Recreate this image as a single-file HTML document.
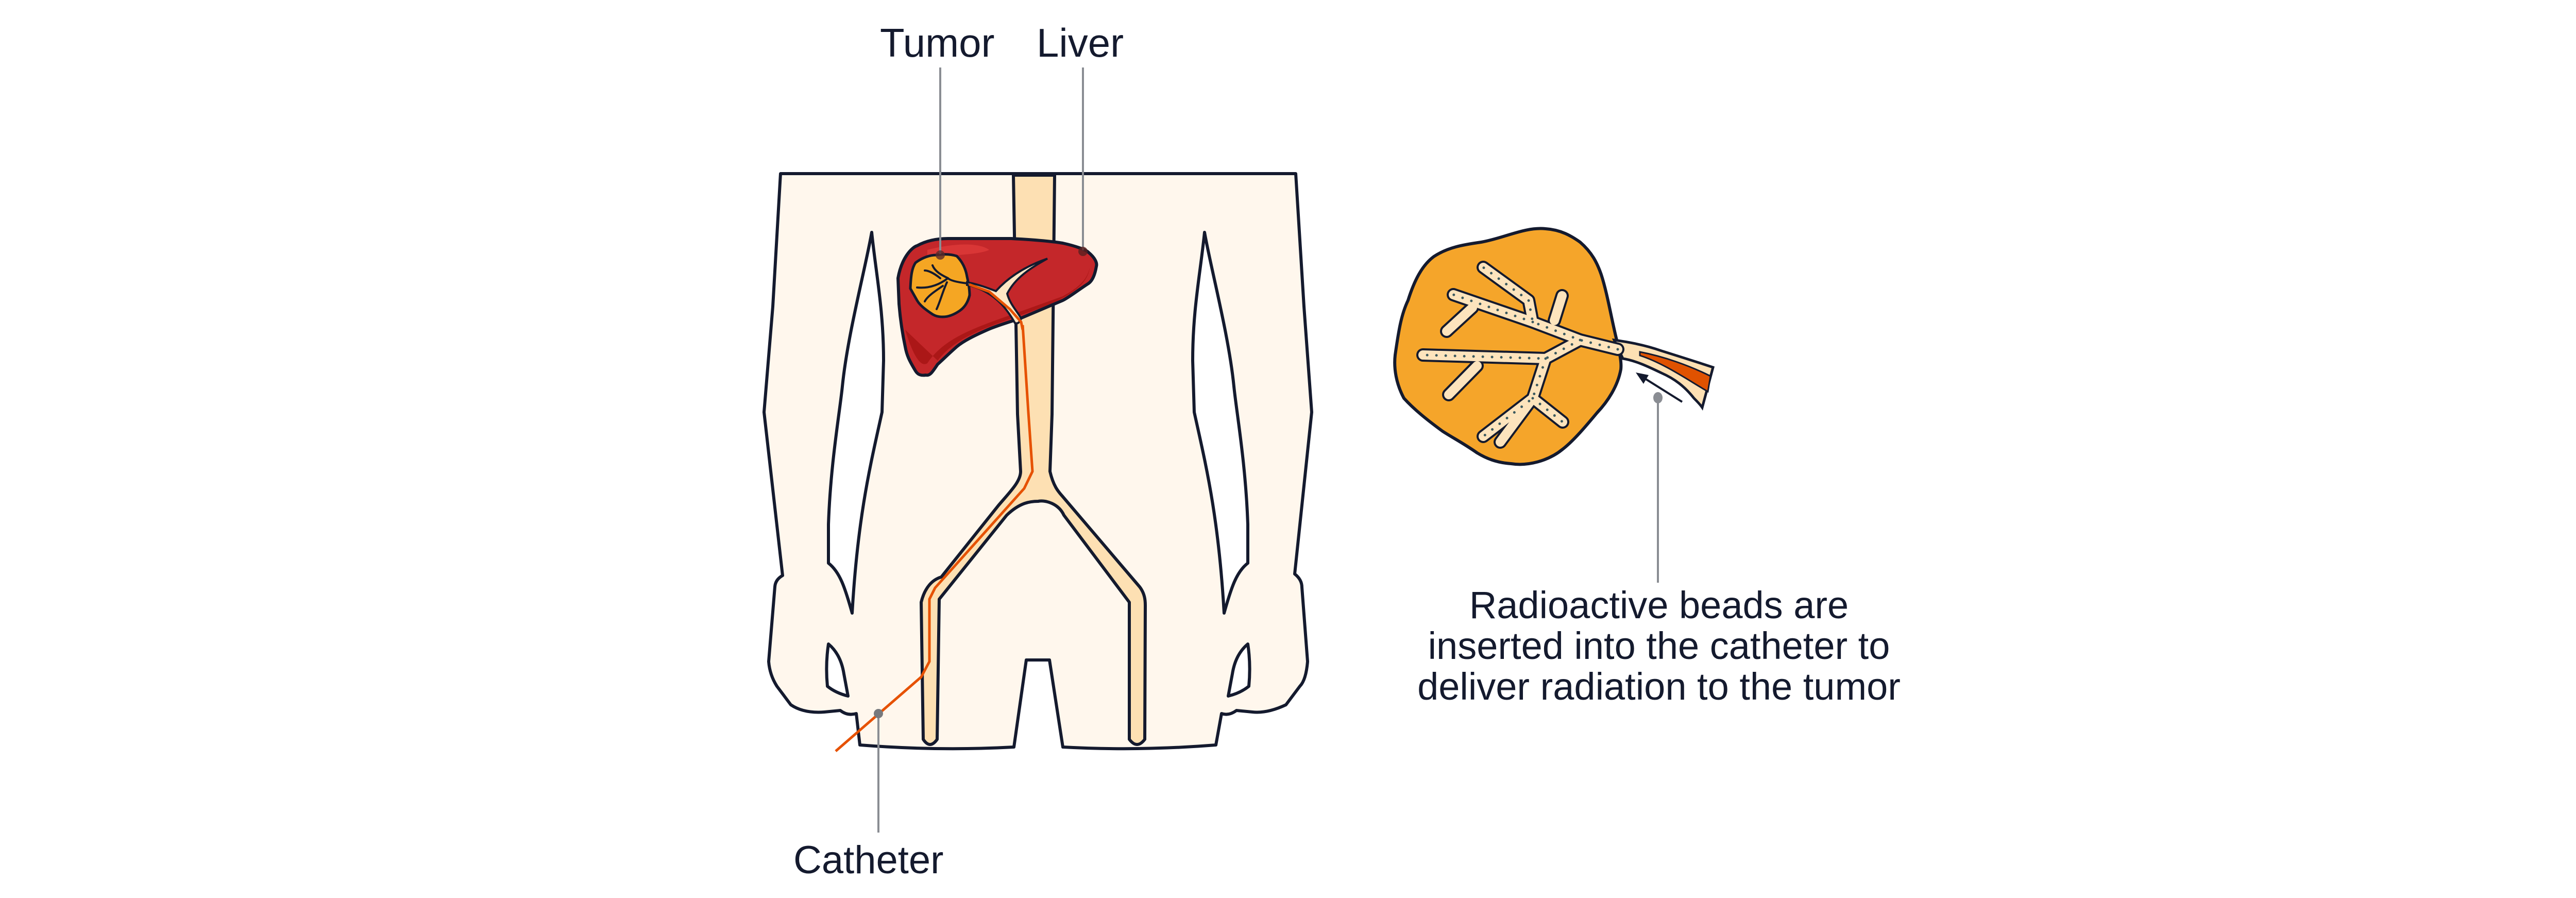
<!DOCTYPE html>
<html><head><meta charset="utf-8"><style>
html,body{margin:0;padding:0;background:#fff;width:5254px;height:1743px;overflow:hidden;}
svg{display:block}
text{font-family:"Liberation Sans",sans-serif;fill:#141a2e;}
</style></head><body>
<svg width="5254" height="1743" viewBox="0 0 5254 1743" xmlns="http://www.w3.org/2000/svg">
<rect width="5254" height="1743" fill="#fff"/>
<path d="M1515,337 L2515,337 L2531,595 L2546,800 L2513,1114 Q2527,1125 2527,1140 L2538,1284 Q2535,1320 2523,1332 L2496,1368 Q2460,1385 2431,1382 L2400,1379 Q2385,1390 2371,1385 L2360,1446 Q2210,1458 2063,1450 L2037,1281 L1992,1281 L1968,1450 Q1820,1458 1669,1446 L1662,1385 Q1645,1390 1631,1379 L1600,1382 Q1560,1385 1535,1368 L1508,1332 Q1494,1310 1492,1284 L1504,1139 Q1505,1125 1519,1117 L1483,800 L1500,595 Z" fill="#fff7ed" stroke="#141a2e" stroke-width="6" stroke-linejoin="round"/>
<g fill="#fff" stroke="#141a2e" stroke-width="6" stroke-linejoin="round">
<path d="M1692,451 C1700,530 1715,600 1715,700 L1712,800 C1690,900 1665,1000 1654,1190 C1640,1140 1630,1110 1608,1093 L1608,1018 C1612,900 1630,800 1635,750 C1645,650 1680,520 1692,451 Z"/>
<path d="M1608,1250 Q1632,1270 1638,1308 L1646,1351 Q1622,1345 1606,1332 Q1602,1290 1608,1250 Z"/>
</g>
<g transform="translate(4030,0) scale(-1,1)" fill="#fff" stroke="#141a2e" stroke-width="6" stroke-linejoin="round">
<path d="M1692,451 C1700,530 1715,600 1715,700 L1712,800 C1690,900 1665,1000 1654,1190 C1640,1140 1630,1110 1608,1093 L1608,1018 C1612,900 1630,800 1635,750 C1645,650 1680,520 1692,451 Z"/>
<path d="M1608,1250 Q1632,1270 1638,1308 L1646,1351 Q1622,1345 1606,1332 Q1602,1290 1608,1250 Z"/>
</g>
<path d="M1967,340 L2047,340 L2042,804 L2038,915 C2045,945 2055,955 2062,963 L2212,1139 C2222,1152 2223,1165 2223,1175 L2222,1435 Q2207,1455 2192,1435 L2192,1169 L2065,1000 C2055,978 2030,970 2015,973 C2000,973 1980,975 1954,1000 L1823,1163 L1819,1435 Q1805,1455 1792,1435 L1788,1169 C1795,1140 1810,1125 1827,1120 L1938,981 C1960,955 1981,935 1981,915 L1975,804 Z" fill="#fde0b3" stroke="#141a2e" stroke-width="6" stroke-linejoin="round"/>
<polyline points="1622,1458 1788,1314 1804,1284 1804,1163 1815,1141 1988,948 2004,915 1996,800 1985,631" fill="none" stroke="#e65100" stroke-width="5"/>
<path d="M1743,540 C1750,500 1770,480 1780,477 C1800,466 1820,463 1840,463 L1963,463 C2000,465 2040,468 2063,472 C2090,478 2108,485 2113,490 C2125,500 2130,510 2128,517 C2125,535 2120,545 2113,550 C2090,565 2075,577 2063,583 L1983,617 C1960,625 1935,632 1917,640 C1890,652 1870,662 1857,673 C1840,688 1828,700 1820,707 C1810,722 1805,730 1797,728 C1785,730 1780,725 1777,720 C1765,700 1760,690 1757,673 C1750,640 1747,615 1745,590 Z" fill="#c4272a" stroke="#141a2e" stroke-width="6"/>
<path d="M1757,640 C1775,700 1790,712 1800,705 C1830,660 1880,640 1960,612 L2063,575 C2090,560 2110,545 2115,520 C2110,560 2060,585 1980,612 C1900,640 1850,660 1820,700" fill="#ab1717"/>
<path d="M1800,485 C1850,472 1900,470 1920,485 C1900,495 1840,495 1800,500 Z" fill="#d93636"/>
<path d="M1767,560 C1768,535 1770,520 1777,510 C1790,500 1805,495 1817,495 C1830,493 1845,493 1857,497 C1870,510 1875,525 1877,537 C1880,550 1882,562 1882,573 C1878,590 1870,598 1863,603 C1850,612 1840,615 1830,615 C1820,615 1815,613 1810,610 C1795,600 1785,592 1780,583 Z" fill="#f5a623" stroke="#141a2e" stroke-width="5"/>
<g stroke="#141a2e" stroke-width="4" fill="none" stroke-linecap="round">
<path d="M1877,550 C1860,548 1845,545 1840,540 C1830,535 1815,528 1810,515"/>
<path d="M1840,540 C1820,555 1800,560 1780,558"/>
<path d="M1838,548 C1830,565 1825,585 1818,600"/>
<path d="M1825,540 C1810,528 1800,525 1795,525"/>
<path d="M1830,555 C1815,565 1800,575 1795,585"/>
</g>
<path d="M1877,548 C1900,552 1920,560 1933,565 C1960,535 1995,515 2033,502 C2000,520 1970,540 1955,570 C1960,590 1975,605 1982,618 Q1978,630 1970,627 C1955,600 1935,575 1900,560 C1890,556 1880,553 1877,553 Z" fill="#fde7c5" stroke="#141a2e" stroke-width="4"/>
<polyline points="1881,552 1920,566 1960,600 1982,625 1985,640" fill="none" stroke="#e65100" stroke-width="5"/>
<g stroke="#8a8d93" stroke-width="4">
<line x1="1825" y1="131" x2="1825" y2="493"/>
<line x1="2102" y1="131" x2="2102" y2="486"/>
<line x1="1705" y1="1385" x2="1705" y2="1616"/>
<line x1="3218" y1="775" x2="3218" y2="1131"/>
</g>
<circle cx="1825" cy="495" r="9" fill="#5a2a2a" opacity="0.8"/>
<circle cx="2102" cy="488" r="9" fill="#5a2020" opacity="0.8"/>
<circle cx="1705" cy="1385" r="9" fill="#77797d"/>
<ellipse cx="3218" cy="772" rx="9" ry="11" fill="#8a8d93"/>
<path d="M2708,689 C2715,640 2720,610 2733,583 C2745,545 2760,515 2783,498 C2810,480 2840,475 2875,470 C2920,462 2960,440 3000,444 C3030,446 3050,458 3067,470 C3090,490 3100,510 3108,533 C3120,570 3128,620 3138,660 C3142,680 3148,700 3146,717 C3140,750 3120,780 3100,801 C3080,825 3055,855 3033,872 C3005,895 2965,905 2933,900 C2905,898 2885,890 2867,879 C2840,860 2820,850 2800,837 C2770,815 2745,795 2725,773 C2710,745 2705,715 2708,689 Z" fill="#f5a52a" stroke="#141a2e" stroke-width="6"/>
<path d="M3133,660 C3170,665 3200,672 3225,681 C3260,692 3295,703 3325,713 L3304,791 C3300,785 3295,780 3288,773 C3270,750 3250,735 3225,724 C3200,712 3175,700 3150,696 Z" fill="#fde0b3" stroke="#141a2e" stroke-width="5"/>
<path d="M3183,683 C3230,692 3280,710 3320,730 L3315,760 C3280,740 3230,705 3183,690 Z" fill="#e05200" stroke="#141a2e" stroke-width="3"/>
<g fill="none" stroke-linecap="round" stroke-linejoin="round">
<g stroke="#141a2e" stroke-width="26">
<path d="M3140,678 L3067,660 L2975,625 L2967,583 L2879,519"/>
<path d="M2975,625 L2821,572"/>
<path d="M2858,597 L2808,643"/>
<path d="M3017,622 L3032,574"/>
<path d="M3067,660 L3000,696 L2762,689"/>
<path d="M2867,710 L2812,766"/>
<path d="M3000,696 L2975,773 L2879,847"/>
<path d="M2975,773 L2912,858"/>
<path d="M2975,773 L3033,819"/>
</g>
<g stroke="#fde4bd" stroke-width="18">
<path d="M3140,678 L3067,660 L2975,625 L2967,583 L2879,519"/>
<path d="M2975,625 L2821,572"/>
<path d="M2858,597 L2808,643"/>
<path d="M3017,622 L3032,574"/>
<path d="M3067,660 L3000,696 L2762,689"/>
<path d="M2867,710 L2812,766"/>
<path d="M3000,696 L2975,773 L2879,847"/>
<path d="M2975,773 L2912,858"/>
<path d="M2975,773 L3033,819"/>
</g>
<g stroke="#3b5a5f" stroke-width="5" stroke-dasharray="0 18">
<path d="M3140,678 L3067,660 L2975,625 L2967,583 L2879,519"/>
<path d="M2975,625 L2821,572"/>
<path d="M3067,660 L3000,696 L2762,689"/>
<path d="M3000,696 L2975,773 L2879,847"/>
<path d="M2975,773 L3033,819"/>
</g>
</g>
<line x1="3265" y1="780" x2="3190" y2="733" stroke="#141a2e" stroke-width="4"/>
<polygon points="3175,723 3200,728 3190,745" fill="#141a2e"/>
<text x="1708" y="110" font-size="78">Tumor</text>
<text x="2012" y="110" font-size="78">Liver</text>
<text x="1540" y="1695" font-size="76">Catheter</text>
<text x="3220" y="1200" font-size="74" text-anchor="middle">Radioactive beads are</text>
<text x="3220" y="1279" font-size="74" text-anchor="middle">inserted into the catheter to</text>
<text x="3220" y="1358" font-size="74" text-anchor="middle">deliver radiation to the tumor</text>
</svg>
</body></html>
